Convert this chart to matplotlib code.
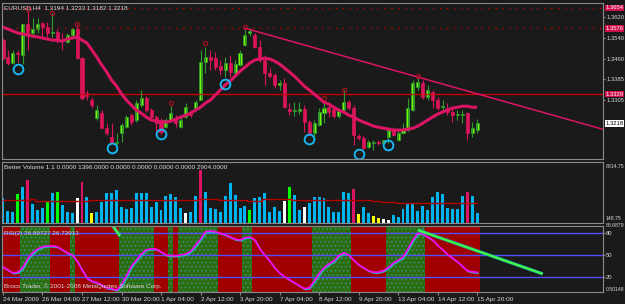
import matplotlib
matplotlib.use("Agg")
import matplotlib.pyplot as plt
import matplotlib.transforms as mtransforms

W, H = 625, 304

# ---------------- data ----------------
date_labels = ["24 Mar 2009", "26 Mar 04:00", "27 Mar 12:00", "30 Mar 20:00", "1 Apr 04:00",
               "2 Apr 12:00", "3 Apr 20:00", "7 Apr 04:00", "8 Apr 12:00", "9 Apr 20:00",
               "13 Apr 04:00", "14 Apr 12:00", "15 Apr 20:00"]
date_bars = [0, 8, 16, 24, 32, 40, 48, 56, 64, 72, 80, 88, 96]

opens = [
    1.3532, 1.3468, 1.3446, 1.3483, 1.3476, 1.3593, 1.3559, 1.3574, 1.3596, 1.3581,
    1.3559, 1.3562, 1.3532, 1.3525, 1.3551, 1.3574, 1.3464, 1.3332, 1.3306, 1.3238,
    1.3257, 1.3200, 1.3167, 1.3144, 1.3182, 1.3204, 1.3249, 1.3231, 1.3287, 1.3314,
    1.3268, 1.3242, 1.3231, 1.3204, 1.3231, 1.3231, 1.3204, 1.3242, 1.3257, 1.3276,
    1.3306, 1.3449, 1.3468, 1.3464, 1.3434, 1.3419, 1.3446, 1.3408, 1.3438, 1.3513,
    1.3559, 1.3551, 1.3506, 1.3457, 1.3408, 1.3400, 1.3363, 1.3370, 1.3272, 1.3265,
    1.3265, 1.3272, 1.3223, 1.3182, 1.3212, 1.3257, 1.3279, 1.3272, 1.3246, 1.3268,
    1.3298, 1.3276, 1.3170, 1.3163, 1.3129, 1.3144, 1.3148, 1.3144, 1.3167, 1.3197,
    1.3155, 1.3182, 1.3193, 1.3268, 1.3355, 1.3370, 1.3317, 1.3336, 1.3306, 1.3279,
    1.3276, 1.3261, 1.3249, 1.3249, 1.3257, 1.3182, 1.3194]
closes = [
    1.3464, 1.3446, 1.3483, 1.3479, 1.3593, 1.3559, 1.3574, 1.3593, 1.3581, 1.3559,
    1.3562, 1.3532, 1.3528, 1.3551, 1.3574, 1.3464, 1.3314, 1.3321, 1.3287, 1.3268,
    1.3200, 1.3182, 1.3144, 1.3148, 1.3212, 1.3242, 1.3223, 1.3295, 1.3314, 1.3268,
    1.3242, 1.3219, 1.3185, 1.3231, 1.3257, 1.3219, 1.3231, 1.3279, 1.3249, 1.3298,
    1.3449, 1.3468, 1.3457, 1.3430, 1.3419, 1.3446, 1.3412, 1.3442, 1.3483, 1.3551,
    1.3566, 1.3506, 1.3457, 1.3408, 1.3396, 1.3363, 1.3370, 1.3279, 1.3265, 1.3268,
    1.3272, 1.3223, 1.3182, 1.3219, 1.3261, 1.3276, 1.3261, 1.3246, 1.3265, 1.3298,
    1.3276, 1.3174, 1.3163, 1.3125, 1.3148, 1.3148, 1.3144, 1.3155, 1.3193, 1.3174,
    1.3182, 1.3197, 1.3276, 1.3370, 1.3374, 1.3317, 1.3344, 1.3306, 1.3276, 1.3283,
    1.3261, 1.3249, 1.3253, 1.3253, 1.3182, 1.3200, 1.3218]
highs = [
    1.3540, 1.3495, 1.3495, 1.3495, 1.3593, 1.3645, 1.3615, 1.3615, 1.3600, 1.3600,
    1.3634, 1.3574, 1.3559, 1.3559, 1.3577, 1.3593, 1.3468, 1.3344, 1.3317, 1.3287,
    1.3268, 1.3219, 1.3219, 1.3182, 1.3219, 1.3249, 1.3257, 1.3306, 1.3344, 1.3321,
    1.3276, 1.3249, 1.3238, 1.3238, 1.3283, 1.3249, 1.3242, 1.3295, 1.3268, 1.3306,
    1.3495, 1.3506, 1.3495, 1.3487, 1.3457, 1.3468, 1.3476, 1.3457, 1.3495, 1.3577,
    1.3577, 1.3559, 1.3532, 1.3476, 1.3427, 1.3408, 1.3381, 1.3389, 1.3295, 1.3298,
    1.3298, 1.3287, 1.3231, 1.3231, 1.3276, 1.3295, 1.3295, 1.3283, 1.3268, 1.3344,
    1.3306, 1.3287, 1.3178, 1.3174, 1.3155, 1.3155, 1.3155, 1.3155, 1.3200, 1.3204,
    1.3193, 1.3219, 1.3314, 1.3381, 1.3389, 1.3381, 1.3363, 1.3344, 1.3317, 1.3306,
    1.3295, 1.3276, 1.3268, 1.3268, 1.3261, 1.3223, 1.3233]
lows = [
    1.3457, 1.3438, 1.3442, 1.3449, 1.3442, 1.3495, 1.3544, 1.3559, 1.3536, 1.3544,
    1.3544, 1.3521, 1.3495, 1.3521, 1.3547, 1.3461, 1.3306, 1.3306, 1.3276, 1.3231,
    1.3200, 1.3174, 1.3144, 1.3136, 1.3148, 1.3200, 1.3212, 1.3223, 1.3279, 1.3261,
    1.3231, 1.3182, 1.3178, 1.3200, 1.3223, 1.3204, 1.3200, 1.3238, 1.3242, 1.3268,
    1.3306, 1.3408, 1.3419, 1.3419, 1.3400, 1.3393, 1.3393, 1.3393, 1.3434, 1.3510,
    1.3547, 1.3502, 1.3449, 1.3363, 1.3389, 1.3351, 1.3344, 1.3276, 1.3249, 1.3246,
    1.3253, 1.3185, 1.3174, 1.3155, 1.3208, 1.3219, 1.3242, 1.3238, 1.3238, 1.3265,
    1.3268, 1.3136, 1.3155, 1.3118, 1.3125, 1.3118, 1.3136, 1.3140, 1.3144, 1.3170,
    1.3151, 1.3178, 1.3189, 1.3265, 1.3344, 1.3310, 1.3306, 1.3276, 1.3268, 1.3261,
    1.3249, 1.3223, 1.3231, 1.3219, 1.3155, 1.3167, 1.3182]

# moving average drawn over the candles
ma = [
    1.3581, 1.3574, 1.3566, 1.3559, 1.3555, 1.3551, 1.3547, 1.3544, 1.3540, 1.3536,
    1.3532, 1.3532, 1.3528, 1.3536, 1.3540, 1.3544, 1.3532, 1.3521, 1.3495, 1.3468,
    1.3438, 1.3412, 1.3381, 1.3359, 1.3329, 1.3306, 1.3287, 1.3268, 1.3257, 1.3242,
    1.3231, 1.3227, 1.3223, 1.3223, 1.3227, 1.3234, 1.3242, 1.3249, 1.3257, 1.3268,
    1.3279, 1.3295, 1.3306, 1.3325, 1.3344, 1.3363, 1.3378, 1.3396, 1.3415, 1.3430,
    1.3446, 1.3457, 1.3461, 1.3464, 1.3461, 1.3453, 1.3442, 1.3427, 1.3412, 1.3396,
    1.3378, 1.3359, 1.3344, 1.3329, 1.3314, 1.3298, 1.3291, 1.3279, 1.3268, 1.3261,
    1.3249, 1.3242, 1.3231, 1.3223, 1.3216, 1.3208, 1.3204, 1.3200, 1.3197, 1.3193,
    1.3193, 1.3193, 1.3197, 1.3200, 1.3208, 1.3219, 1.3231, 1.3242, 1.3253, 1.3261,
    1.3268, 1.3276, 1.3279, 1.3283, 1.3283, 1.3279, 1.3279]

trend_bars = [49, 84]
trend_prices = [1.3577, 1.3393]

level_dotted = [1.3654, 1.3576]
level_solid = 1.3329
price_ticks = [1.3620, 1.3540, 1.3460, 1.3385, 1.3305]
last_price = 1.3218

signal_bars = [3, 22, 32, 45, 62, 72, 78]
signal_prices = [1.3423, 1.3125, 1.3178, 1.3366, 1.3159, 1.3103, 1.3136]
fractal_bars = [5, 10, 15, 34, 41, 49, 65, 69, 84]
fractal_prices = [1.3649, 1.3634, 1.3593, 1.3295, 1.3521, 1.3581, 1.3314, 1.3344, 1.3396]

volumes = [
    3610, 1730, 1590, 4190, 5200, 6210, 2750, 1880, 2170, 3180,
    4340, 4480, 2600, 1590, 1450, 3610, 5930, 3760, 1450, 1590,
    3040, 4340, 4340, 4770, 2310, 2020, 2170, 4340, 4340, 4340,
    2310, 3040, 1880, 3900, 4190, 3760, 2170, 1450, 1590, 3900,
    7660, 4480, 2170, 2020, 1590, 3900, 5780, 4050, 2170, 2460,
    1880, 3610, 3760, 4340, 1590, 2310, 1730, 3180, 5200, 4050,
    1880, 2310, 2890, 3760, 3760, 3610, 2310, 1590, 1590, 4480,
    4340, 4910, 1300, 2310, 1450, 1010, 720, 580, 430, 1160,
    870, 2020, 2890, 2890, 1730, 2460, 1880, 3760, 4480, 4190,
    2170, 2020, 2020, 3900, 4480, 3900, 1396]
vol_kind = ("bbbgbrbbbg" "bgbbbwrbyb" "bbbbbbbbbb" "bbbbbbbwbb" "rbbbbbbbbb"
            "gbbbbbbwgb" "bwbbbbbbbb" "brybbyywwb" "bbbbbbbbbb" "bbbbrbb")
vol_avg = [
    3320, 3320, 3320, 3320, 3320, 3320, 3470, 3220, 3220, 3220,
    3220, 3220, 3220, 3220, 3220, 3220, 3220, 3220, 3320, 3320,
    3320, 3320, 3320, 3320, 3320, 3320, 3320, 3320, 3320, 3320,
    3320, 3320, 3320, 3320, 3320, 3320, 3320, 3320, 3320, 3320,
    3400, 3400, 3400, 3400, 3320, 3320, 3320, 3320, 3320, 3320,
    3220, 3220, 3220, 3400, 3400, 3400, 3400, 3400, 3400, 3320,
    3320, 3320, 3320, 3320, 3320, 3320, 3320, 3320, 3320, 3320,
    3320, 3320, 3320, 3320, 3320, 3150, 3150, 3000, 3000, 3000,
    2904, 2904, 2904, 2904, 2904, 2904, 2904, 2904, 2904, 2904,
    2904, 2904, 2904, 2904, 2904, 2904, 2904]

rsi = [
    34, 30, 26, 27, 33, 45, 53, 58, 61, 62,
    62, 61, 57, 53, 50, 42, 30, 19, 15, 13,
    10, 6, 5, 3, 10, 22, 35, 43, 51, 57,
    58, 58, 54, 50, 49, 49, 50, 51, 55, 63,
    71, 81, 82, 81, 79, 77, 74, 71, 70, 73,
    74, 70, 58, 50, 42, 33, 26, 21, 17, 13,
    9, 5, 6, 15, 25, 33, 38, 42, 49, 53,
    50, 43, 37, 33, 29, 27, 27, 29, 33, 39,
    43, 47, 58, 70, 79, 78, 74, 70, 63, 57,
    51, 46, 41, 35, 29, 27.5, 26.9]
rsi_zone = ("RRRR" "GGGGGG" "RRRR" "G" "RRRRRRRRR" "GGGGGGG" "RRR" "G" "R" "GGGGGGGG"
            "RRRRR" "GG" "RRRRRRRRRRRR" "GGGGGGGG" "RRRRRRR" "GGGGGGGG" "RRRRRRRRRRR")
rsi_levels = [80, 50, 20]
rsi_line1_bars = [84, 109.3]
rsi_line1_vals = [83.3, 24.7]
rsi_line2_bars = [22.3, 23.7]
rsi_line2_vals = [88.1, 75.3]

# ---------------- style ----------------
BG = "#1a1a1a"
TXT = "#d8d8d8"
GRID = "#8a8a8a"
BULL = "#7CFC00"
BULL_EDGE = "#2E9B2E"
BEAR = "#DC145A"
FS = 4.6    # panel titles / dates
FSR = 4.2   # right price scale
FSS = 3.7   # long scale labels at the edge

plt.rcParams["font.family"] = ["Liberation Sans Narrow", "Liberation Sans", "DejaVu Sans"]

fig = plt.figure(figsize=(W / 100, H / 100), dpi=100, facecolor=BG)


def px_axes(x0, y0, x1, y1):
    ax = fig.add_axes([x0 / W, 1 - y1 / H, (x1 - x0) / W, (y1 - y0) / H])
    ax.set_facecolor(BG)
    for s in ax.spines.values():
        s.set_color(GRID)
        s.set_linewidth(0.8)
    ax.set_xlim(-0.2, 121.5)
    ax.set_xticks([])
    ax.yaxis.tick_right()
    ax.tick_params(axis="y", colors=GRID, labelcolor=TXT, labelsize=FSR, length=1.5, pad=0.8)
    return ax


def side_text(ax, y, text, fc=None, tc=TXT, data_y=True, size=FSR):
    tr = mtransforms.blended_transform_factory(ax.transAxes, ax.transData if data_y else ax.transAxes)
    kw = dict(transform=tr, fontsize=size, color=tc, va="center", ha="left", clip_on=False)
    if fc:
        kw["bbox"] = dict(facecolor=fc, edgecolor="none", pad=0.4)
    ax.text(1.0045, y, text, **kw)


n = len(closes)
idx = list(range(n))

# ---------------- main price panel ----------------
ax = px_axes(2, 3, 603, 159)
ax.set_ylim(1.3084, 1.3672)

for y in level_dotted:
    ax.axhline(y, color="#c00000", lw=1, ls=(0, (1, 4)))
ax.axhline(level_solid, color="#c00000", lw=1)

for i in idx:
    up = closes[i] >= opens[i]
    ax.vlines(i, lows[i], highs[i], color=BULL_EDGE if up else BEAR, lw=0.8)
    lo, hi = min(opens[i], closes[i]), max(opens[i], closes[i])
    ax.bar(i, max(hi - lo, 0.00005), bottom=lo, width=0.62,
           color=BULL if up else BEAR, edgecolor=BULL_EDGE if up else BEAR, lw=0.5)

ax.plot(idx, ma, color="#DC1464", lw=2.2, solid_capstyle="butt")

# trend line through two highs, extended to the right edge
slope = (trend_prices[1] - trend_prices[0]) / (trend_bars[1] - trend_bars[0])
ax.plot([trend_bars[0], 121.5], [trend_prices[0], trend_prices[0] + slope * (121.5 - trend_bars[0])],
        color="#DC1464", lw=1.1)

ax.plot(signal_bars, signal_prices, ls="none", marker="o", ms=7, mfc="none",
        mec="#18B4F0", mew=1.4)
ax.plot(fractal_bars, fractal_prices, ls="none", marker="o", ms=3, mfc="none",
        mec="#B01020", mew=0.8)

ax.set_yticks(price_ticks)
ax.set_yticklabels(["%.4f" % v for v in price_ticks])
for lv in level_dotted + [level_solid]:
    side_text(ax, lv, "%.4f" % lv, fc="#D0104A", tc="white")
side_text(ax, last_price, "%.4f" % last_price, fc="white", tc="black")

ax.text(0.004, 0.985, "EURUSD,H4  %.4f %.4f %.4f %.4f" % (opens[-1], highs[-1], lows[-1], closes[-1]),
        transform=ax.transAxes, fontsize=FS, color=TXT, va="top", ha="left")

# ---------------- volume panel ----------------
axv = px_axes(2, 162, 603, 223)
axv.set_ylim(0, 8814.75)
vcol = {"b": "#00B4F0", "g": "#00FF00", "r": "#DC1464", "w": "#FFFFFF", "y": "#FFFF00"}
axv.bar(idx, volumes, width=0.6, color=[vcol[k] for k in vol_kind], lw=0)
axv.plot(idx, vol_avg, color="#B00000", lw=1, drawstyle="steps-mid")
axv.set_yticks([])
side_text(axv, 0.92, "8814.75", data_y=False, size=FSS)
side_text(axv, 0.07, "148.75", data_y=False, size=FSS)
axv.text(0.004, 0.95, "Better Volume 1.1 0.0000 1396.0000 0.0000 0.0000 0.0000 0.0000 2904.0000",
         transform=axv.transAxes, fontsize=FS, color=TXT, va="top", ha="left")

# ---------------- RSI panel ----------------
axr = px_axes(2, 226, 603, 292)
axr.set_ylim(0.50148, 88.6879)
zcol = {"R": "#A00000", "G": "#2D6A08"}
for i, z in enumerate(rsi_zone):
    axr.bar(i, 88.6879 - 0.50148, bottom=0.50148, width=1.0, color=zcol[z], lw=0,
            hatch="...." if z == "G" else None, edgecolor="#2E8A6A" if z == "G" else zcol[z])
for lv in rsi_levels:
    axr.axhline(lv, color="#5050FF", lw=1)

shift = mtransforms.ScaledTranslation(1 / 100, -1 / 100, fig.dpi_scale_trans)
axr.plot(idx, rsi, color="#20C0C0", lw=1, transform=axr.transData + shift)
axr.plot(idx, rsi, color="#FF00FF", lw=1.2)
for bx, by in ((rsi_line1_bars, rsi_line1_vals), (rsi_line2_bars, rsi_line2_vals)):
    axr.plot(bx, by, color="#20A0A0", lw=2.4, solid_capstyle="butt")
    axr.plot(bx, by, color="#40FF40", lw=1.4, solid_capstyle="butt")

axr.set_yticks(rsi_levels)
axr.set_yticklabels([str(v) for v in rsi_levels])
side_text(axr, 1.01, "88.6879", data_y=False, size=FSS)
side_text(axr, 0.04, "0.50148", data_y=False, size=FSS)
axr.text(0.004, 0.93, "RSI(2) 26.89727 26.73913", transform=axr.transAxes,
         fontsize=FS, color=TXT, va="top", ha="left")
axr.text(0.004, 0.04, "Broco Trader, \u00a9 2001-2008 MetaQuotes Software Corp.",
         transform=axr.transAxes, fontsize=FS, color=TXT, va="bottom", ha="left")

axr.set_xticks(date_bars)
axr.set_xticklabels(date_labels, ha="left")
axr.tick_params(axis="x", colors=GRID, labelcolor=TXT, labelsize=FS, length=2, pad=1.5)

fig.savefig("out.png", dpi=100, facecolor=BG)
